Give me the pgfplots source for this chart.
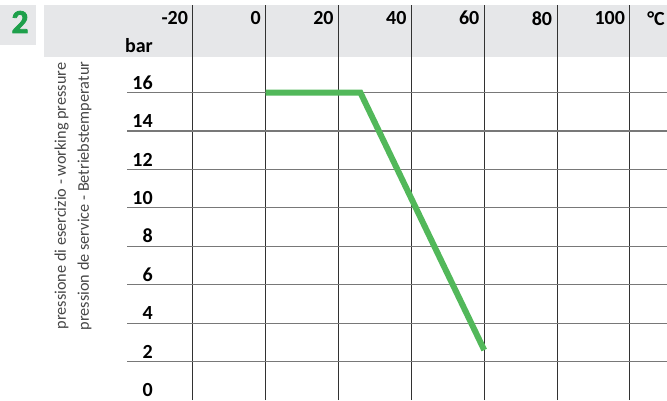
\documentclass[border=0pt]{standalone}
\usepackage{fontspec}
\setmainfont{Carlito}
\newfontfamily\heavyfont{Carlito}[BoldFeatures={FakeBold=2.5}]
\usepackage{pgfplots}
\pgfplotsset{compat=1.18}
\definecolor{band}{RGB}{230,231,233}
\definecolor{curve}{RGB}{82,184,90}
\definecolor{num}{RGB}{30,160,75}
\definecolor{vgrid}{RGB}{50,50,50}
\definecolor{hgrid}{RGB}{120,120,120}
\definecolor{labc}{RGB}{70,70,70}

\begin{document}
\begin{tikzpicture}[x=1pt,y=1pt]
\useasboundingbox (0,0) rectangle (500.25,300);
% header band and the number box
\fill[band] (33,257.25) rectangle (500.25,296.25);
\fill[band] (0,266.25) rectangle (27,296.25);
\node[font=\heavyfont\bfseries\fontsize{25}{25}\selectfont, text=num] at (15,283.5) {2};
\node[rotate=90, align=center, text=labc, font=\fontsize{12.2}{17.25}\selectfont]
  at (54.75,153) {pressione di esercizio - working pressure\\pression de service - Betriebstemperatur};
\begin{axis}[
  scale only axis, width=405pt, height=296.25pt,
  at={(95.25pt,0pt)}, anchor=south west,
  xmin=-38.1, xmax=110.2, ymin=0, ymax=20.56,
  xtick={-20,0,20,40,60,80,100}, xticklabels={-20,0,20,40,60,80,100},
  ytick={2,4,6,8,10,12,14,16}, yticklabels={2,4,6,8,10,12,14,16},
  extra y ticks={0}, extra y tick labels={0}, extra y tick style={grid=none},
  xmajorgrids, ymajorgrids,
  x grid style={vgrid, line width=0.8pt},
  y grid style={hgrid, line width=0.8pt},
  axis line style={draw=none}, major tick length=0pt,
  xticklabel pos=upper,
  xticklabel style={anchor=north east, inner sep=0pt, xshift=-3.5pt, yshift=-4.5pt,
    font=\bfseries\fontsize{15}{15}\selectfont},
  yticklabel style={anchor=south east, inner sep=0pt, xshift=19.5pt, yshift=2.25pt,
    font=\bfseries\fontsize{15}{15}\selectfont},
  clip=false,
]
\addplot[curve, line width=4.5pt] coordinates {(0,16) (26,16) (60,2.6)};
\node[anchor=south east, inner sep=0pt, xshift=19.5pt, yshift=1pt,
  font=\bfseries\fontsize{15}{15}\selectfont] at (axis cs:-38.1,18) {bar};
\node[anchor=north east, inner sep=0pt, xshift=-1.5pt, yshift=-4.5pt,
  font=\bfseries\fontsize{15}{15}\selectfont] at (rel axis cs:1,1) {°C};
\end{axis}
\end{tikzpicture}
\end{document}
